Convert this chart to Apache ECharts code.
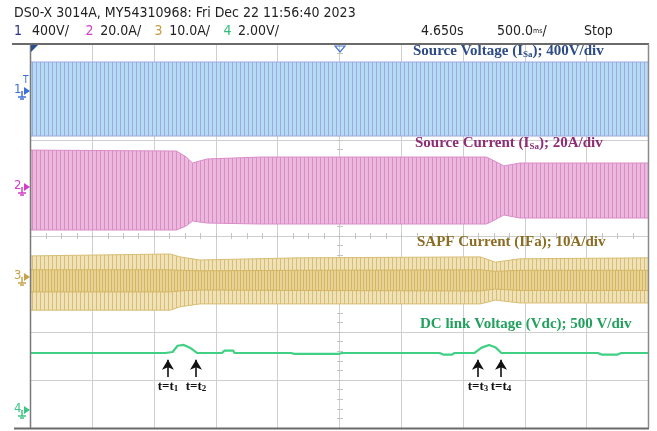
<!DOCTYPE html>
<html>
<head>
<meta charset="utf-8">
<script src="https://cdn.jsdelivr.net/npm/echarts@6/dist/echarts.min.js"></script>
<style>
html, body { margin: 0; padding: 0; background: #fff; }
#main { width: 657px; height: 431px; }
</style>
</head>
<body>
<div id="main"></div>
<script>
// 10 div x 500 ms time base, 8 vertical div
var timeTicks = [0, 0.5, 1.0, 1.5, 2.0, 2.5, 3.0, 3.5, 4.0, 4.5, 5.0];

// ch1 source voltage envelope (V), 400 V/div
var vsTime  = [0, 5.0];
var vsUpper = [250, 250];
var vsLower = [-367, -367];

// ch2 source current envelope (A), 20 A/div
var isTime  = [0, 1.18, 1.26, 1.31, 1.43, 1.86, 3.69, 3.77, 3.83, 3.96, 5.0];
var isUpper = [15.8, 15.4, 12.9, 10.4, 12.1, 12.9, 12.9, 10.8, 9.2, 10.4, 10.4];
var isLower = [-17.5, -17.5, -15.8, -13.75, -14.6, -15.0, -15.0, -12.9, -11.25, -12.5, -12.5];

// ch3 SAPF current envelope (A), 10 A/div
var ifTime  = [0, 1.13, 1.21, 1.37, 2.18, 3.64, 3.76, 3.96, 5.0];
var ifUpper = [4.6, 5.0, 4.4, 3.75, 4.2, 4.4, 3.3, 4.0, 4.2];
var ifLower = [-6.7, -6.7, -6.0, -5.4, -5.4, -5.4, -4.6, -5.2, -5.2];
var ifCoreUpper = [1.7, 1.7, 1.6, 1.5, 1.6, 1.7, 1.4, 1.6, 1.6];
var ifCoreLower = [-2.9, -2.9, -2.7, -2.5, -2.6, -2.7, -2.3, -2.6, -2.6];

// ch4 DC link voltage (V), 500 V/div
var vdcTime = [0, 1.09, 1.15, 1.19, 1.24, 1.29, 1.35, 1.55, 1.57, 1.64, 1.65, 2.11, 2.13, 2.50, 2.52,
               3.31, 3.34, 3.41, 3.43, 3.59, 3.65, 3.71, 3.76, 3.81, 4.59, 4.62, 4.75, 4.78, 5.0];
var vdcVals = [604, 604, 615, 680, 688, 660, 604, 604, 630, 630, 604, 604, 596, 596, 604,
               604, 588, 588, 604, 604, 660, 688, 665, 604, 604, 588, 588, 604, 604];

// event markers t1..t4 (s)
var eventNames = ['1', '2', '3', '4'];
var eventTimes = [1.112, 1.339, 3.62, 3.807];

var chart = echarts.init(document.getElementById('main'));

function stripes(bg, fg, w) {
    var c = document.createElement('canvas');
    c.width = w; c.height = 2;
    var g = c.getContext('2d');
    g.fillStyle = bg; g.fillRect(0, 0, w, 2);
    g.fillStyle = fg; g.fillRect(0, 0, 1, 2);
    return c;
}

// envelope band drawn as one polygon through the axis scale
function band(time, upper, lower, ground, scale, bg, fg, w) {
    var data = time.map(function (t, i) {
        return [t, ground + lower[i] / scale, ground + upper[i] / scale];
    });
    var pattern = { image: stripes(bg, fg, w), repeat: 'repeat' };
    return {
        type: 'custom', silent: true, data: data,
        encode: { x: 0, y: [1, 2] },
        renderItem: function (params, api) {
            if (params.dataIndex !== 0) return null;
            var top = data.map(function (d) { return api.coord([d[0], d[2]]); });
            var bot = data.map(function (d) { return api.coord([d[0], d[1]]); });
            return {
                type: 'group',
                children: [
                    { type: 'polygon', shape: { points: top.concat(bot.slice().reverse()) },
                      style: { fill: pattern } },
                    { type: 'polyline', shape: { points: top }, style: { fill: null, stroke: fg, lineWidth: 1 } },
                    { type: 'polyline', shape: { points: bot }, style: { fill: null, stroke: fg, lineWidth: 1 } }
                ]
            };
        }
    };
}

var serif = 'Liberation Serif, Times New Roman, serif';
var narrow = 'Liberation Sans Narrow, DejaVu Sans Condensed, sans-serif';

function label(x, y, main1, sub, main2, color) {
    return {
        type: 'text', left: x, top: y, z: 50,
        style: {
            text: '{m|' + main1 + '}' + (sub ? '{s|' + sub + '}' : '') + '{m|' + main2 + '}',
            rich: {
                m: { fontFamily: serif, fontWeight: 'bold', fontSize: 15, fill: color, lineHeight: 18, verticalAlign: 'bottom' },
                s: { fontFamily: serif, fontWeight: 'bold', fontSize: 9, fill: color, lineHeight: 14, verticalAlign: 'bottom' }
            }
        }
    };
}

function chMarker(num, y, color) {
    return {
        type: 'group', left: 14, top: y - 9, z: 50,
        children: [
            { type: 'text', x: 0, y: 1, style: { text: num, fontFamily: narrow, fontSize: 13, fill: color } },
            { type: 'polygon', shape: { points: [[10, 5], [16, 9], [10, 13]] }, style: { fill: color } },
            { type: 'line', shape: { x1: 8, y1: 9, x2: 8, y2: 15 }, style: { stroke: color, lineWidth: 1.5 } },
            { type: 'line', shape: { x1: 4, y1: 15, x2: 12, y2: 15 }, style: { stroke: color, lineWidth: 1.5 } },
            { type: 'line', shape: { x1: 6, y1: 17, x2: 10, y2: 17 }, style: { stroke: color, lineWidth: 1.5 } }
        ]
    };
}

var eventLines = eventTimes.map(function (t, i) {
    return [{ coord: [t, 1.06], label: { formatter: '{m|t=t}{s|' + eventNames[i] + '}' } },
            { coord: [t, 1.42] }];
});

var series = [
    band(vsTime, vsUpper, vsLower, 7.0, 400, '#b6dbf5', '#9ea9de', 4),
    band(isTime, isUpper, isLower, 5.0, 20, '#edb8de', '#da8cc8', 4),
    band(ifTime, ifUpper, ifLower, 3.125, 10, '#f0e2b8', '#d8bd72', 4),
    band(ifTime, ifCoreUpper, ifCoreLower, 3.125, 10, '#e8d294', '#d4b664', 3)
];

series.push({
    type: 'line', symbol: 'none', silent: true,
    data: vdcTime.map(function (t, i) { return [t, 0.354 + vdcVals[i] / 500]; }),
    lineStyle: { color: '#3fd083', width: 2.2 },
    markLine: {
        silent: true, symbol: ['none', 'arrow'], symbolSize: [9, 10],
        lineStyle: { color: '#111', width: 1.6, type: 'solid' },
        label: {
            show: true, position: 'start', distance: 1,
            rich: {
                m: { fontFamily: serif, fontWeight: 'bold', fontSize: 13, color: '#111', lineHeight: 15, verticalAlign: 'bottom' },
                s: { fontFamily: serif, fontWeight: 'bold', fontSize: 9, color: '#111', lineHeight: 12, verticalAlign: 'bottom' }
            }
        },
        data: eventLines
    }
});

var option = {
    animation: false,
    backgroundColor: '#fff',
    grid: [
        { left: 30.5, right: 8.5, top: 44, bottom: 3 },
        { left: 30.5, right: 8.5, top: 233, height: 6 },
        { left: 337, width: 6, top: 44, bottom: 3 }
    ],
    xAxis: [
        { type: 'value', gridIndex: 0, min: 0, max: 5, interval: 0.5,
          axisLabel: { show: false }, axisTick: { show: false },
          axisLine: { show: false },
          splitLine: { show: true, lineStyle: { color: '#cfcfcf', width: 1 } } },
        { type: 'value', gridIndex: 1, min: 0, max: 5, interval: 0.125,
          axisLabel: { show: false }, axisLine: { show: false },
          axisTick: { show: true, inside: true, length: 6, lineStyle: { color: '#c4c4c4' } },
          splitLine: { show: false } },
        { type: 'value', gridIndex: 2, min: 0, max: 1, show: false }
    ],
    yAxis: [
        { type: 'value', gridIndex: 0, min: 0, max: 8, interval: 1,
          axisLabel: { show: false }, axisTick: { show: false },
          axisLine: { show: false },
          splitLine: { show: true, lineStyle: { color: '#cfcfcf', width: 1 } } },
        { type: 'value', gridIndex: 1, min: 0, max: 1, show: false },
        { type: 'value', gridIndex: 2, min: 0, max: 8, interval: 0.2,
          axisLabel: { show: false }, axisLine: { show: false },
          axisTick: { show: true, inside: true, length: 6, lineStyle: { color: '#c4c4c4' } },
          splitLine: { show: false } }
    ],
    series: series,
    graphic: [
        // frame
        { type: 'line', z: 40, shape: { x1: 12, y1: 44, x2: 649, y2: 44 }, style: { stroke: '#6a6a6a', lineWidth: 2 } },
        { type: 'line', z: 40, shape: { x1: 14, y1: 428.5, x2: 649, y2: 428.5 }, style: { stroke: '#6a6a6a', lineWidth: 2 } },
        { type: 'line', z: 40, shape: { x1: 30.5, y1: 44, x2: 30.5, y2: 428 }, style: { stroke: '#7a7a7a', lineWidth: 1.5 } },
        { type: 'line', z: 40, shape: { x1: 648.5, y1: 44, x2: 648.5, y2: 428 }, style: { stroke: '#8a8a8a', lineWidth: 1.5 } },
        // trigger marks
        { type: 'polygon', z: 41, shape: { points: [[31, 45], [38, 45], [31, 52]] }, style: { fill: '#2a4f8f' } },
        { type: 'polygon', z: 41, shape: { points: [[335, 46], [345, 46], [340, 52]] }, style: { fill: 'none', stroke: '#4a78d0', lineWidth: 1.2 } },
        // header
        { type: 'text', left: 14, top: 6, z: 50,
          style: { text: 'DS0-X 3014A, MY54310968: Fri Dec 22 11:56:40 2023', fontFamily: narrow, fontSize: 14, fill: '#222' } },
        { type: 'text', left: 14, top: 24, z: 50,
          style: {
              text: '{a|1}   {t|400V/}     {b|2}  {t|20.0A/}    {c|3}  {t|10.0A/}    {d|4}  {t|2.00V/}',
              rich: {
                  t: { fontFamily: narrow, fontSize: 14, fill: '#222' },
                  a: { fontFamily: narrow, fontSize: 14, fill: '#2e2e8c' },
                  b: { fontFamily: narrow, fontSize: 14, fill: '#d23ec8' },
                  c: { fontFamily: narrow, fontSize: 14, fill: '#c29c42' },
                  d: { fontFamily: narrow, fontSize: 14, fill: '#2fbf7a' }
              }
          } },
        { type: 'text', left: 421, top: 24, z: 50, style: { text: '4.650s', fontFamily: narrow, fontSize: 14, fill: '#222' } },
        { type: 'text', left: 497, top: 24, z: 50,
          style: { text: '{t|500.0}{u|ms}{t|/}',
                   rich: { t: { fontFamily: narrow, fontSize: 14, fill: '#222' }, u: { fontFamily: narrow, fontSize: 7, fill: '#222' } } } },
        { type: 'text', left: 584, top: 24, z: 50, style: { text: 'Stop', fontFamily: narrow, fontSize: 14, fill: '#222' } },
        // channel markers
        chMarker('1', 92, '#3d6fd6'),
        chMarker('2', 188, '#d23ec8'),
        chMarker('3', 278, '#c8a24a'),
        chMarker('4', 411, '#3cc585'),
        { type: 'text', left: 23, top: 75, z: 50, style: { text: 'T', fontFamily: narrow, fontSize: 10, fill: '#3d6fd6' } },
        // trace labels
        label(413, 44, 'Source Voltage (I', 'Sa', '); 400V/div', '#2d4c86'),
        label(415, 136, 'Source Current (I', 'Sa', '); 20A/div', '#8e2c76'),
        label(417, 235, 'SAPF Current (IFa); 10A/div', '', '', '#8a6c22'),
        label(420, 317, 'DC link Voltage (Vdc); 500 V/div', '', '', '#22a05e')
    ]
};

chart.setOption(option);
</script>
</body>
</html>
